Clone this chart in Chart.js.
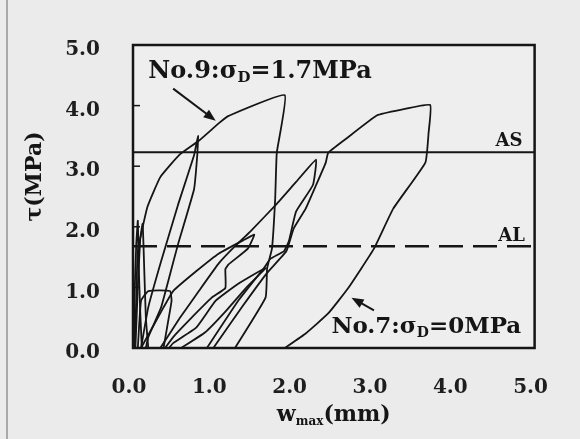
<!DOCTYPE html>
<html>
<head>
<meta charset="utf-8">
<script src="https://cdn.jsdelivr.net/npm/chart.js@4.4.1/dist/chart.umd.min.js"></script>
<style>
  body { margin: 0; background: #ebebeb; }
  #wrap { width: 580px; height: 439px; }
</style>
</head>
<body>
<div id="wrap"><canvas id="shearChart" width="580" height="439"></canvas></div>
<script>
// axis ticks (mm / MPa)
const xTicks = [0, 1, 2, 3, 4, 5];
const yTicks = [0, 1, 2, 3, 4, 5];

// allowable stress levels (MPa)
const levelAS = 3.23;
const levelAL = 1.68;

// No.9 : sigma_D = 1.7 MPa, points are [w_max, tau]
const no9Spike1 = [[0.01, 0], [0.02, 0.9], [0.04, 1.7], [0.06, 2.1], [0.07, 1.4], [0.09, 0.6], [0.11, 0]];
const no9Spike2 = [[0.03, 0], [0.06, 1.0], [0.09, 1.8], [0.12, 2.05], [0.14, 1.3], [0.16, 0.5], [0.19, 0]];
const no9Small = [[0.06, 0], [0.1, 0.78], [0.19, 0.94], [0.46, 0.94], [0.48, 0.78], [0.44, 0.46], [0.38, 0]];
const no9Mid = [[0.1, 0], [0.19, 0.67], [0.35, 1.43], [0.56, 2.36], [0.76, 3.18], [0.81, 3.5],
  [0.8, 3.18], [0.76, 2.62], [0.56, 1.71], [0.44, 1.11], [0.35, 0.67], [0.19, 0.18], [0.16, 0]];
const no9Big = [[0.02, 0], [0.04, 0.78], [0.06, 1.6], [0.18, 2.33], [0.34, 2.82], [0.58, 3.19],
  [0.82, 3.42], [1.07, 3.71], [1.19, 3.83], [1.89, 4.17],
  [1.79, 3.22], [1.77, 2.46], [1.73, 1.64], [1.67, 1.32], [1.65, 0.83], [1.27, 0]];

// No.7 : sigma_D = 0 MPa
const no7Thin = [[0.45, 0], [0.5, 0.08], [0.79, 0.34], [1.03, 0.78], [1.31, 1.06], [1.65, 1.32],
  [1.4, 0.98], [1.15, 0.6], [0.9, 0.26], [0.6, 0]];
const no7First = [[0.1, 0], [0.38, 0.67], [0.5, 0.94], [0.79, 1.27], [1.07, 1.56], [1.39, 1.79], [1.51, 1.87],
  [1.43, 1.64], [1.19, 1.38], [1.15, 1.3], [1.15, 0.99], [0.98, 0.83], [0.7, 0.46], [0.5, 0.18], [0.4, 0]];
const no7Second = [[0.34, 0], [0.58, 0.49], [0.82, 0.94], [1.07, 1.4], [1.27, 1.68], [1.46, 1.92],
  [1.79, 2.38], [2.03, 2.74], [2.28, 3.11],
  [2.24, 2.69], [2.03, 2.25], [1.94, 1.76], [1.88, 1.6], [1.71, 1.47], [1.63, 1.32], [1.31, 0.78], [0.92, 0]];
const no7Last = [[1.0, 0], [1.37, 0.7], [1.67, 1.24], [1.91, 1.6], [2.0, 1.97], [2.15, 2.3], [2.28, 2.69],
  [2.4, 3.06], [2.43, 3.22], [2.64, 3.44], [3.04, 3.84], [3.33, 3.93], [3.7, 4.01],
  [3.68, 3.55], [3.64, 3.06], [3.24, 2.3], [3.0, 1.64], [2.68, 0.99], [2.43, 0.57], [2.15, 0.24], [1.89, 0]];

const loops = [no9Spike1, no9Spike2, no9Small, no9Mid, no9Big, no7Thin, no7First, no7Second, no7Last];

const ink = '#151515';
const serif = '"DejaVu Serif", "Liberation Serif", serif';
const toPts = arr => arr.map(([x, y]) => ({x, y}));

const datasets = loops.map(l => ({
  data: toPts(l),
  showLine: true,
  borderColor: ink,
  borderWidth: 1.8,
  pointRadius: 0,
  tension: 0.12
}));
datasets.push({
  data: toPts([[0, levelAS], [5, levelAS]]),
  showLine: true, borderColor: ink, borderWidth: 2, pointRadius: 0
});
datasets.push({
  data: toPts([[0, levelAL], [5, levelAL]]),
  showLine: true, borderColor: ink, borderWidth: 2.5, pointRadius: 0, borderDash: [24, 10]
});

function drawParts(ctx, parts, x, y) {
  parts.forEach(([txt, size, dy]) => {
    ctx.font = `bold ${size}px ${serif}`;
    ctx.fillText(txt, x, y + dy);
    x += ctx.measureText(txt).width;
  });
  return x;
}

function partsWidth(ctx, parts) {
  let w = 0;
  parts.forEach(([txt, size]) => {
    ctx.font = `bold ${size}px ${serif}`;
    w += ctx.measureText(txt).width;
  });
  return w;
}

function arrow(ctx, x0, y0, x1, y1) {
  const ang = Math.atan2(y1 - y0, x1 - x0);
  const h = 13;
  ctx.beginPath();
  ctx.moveTo(x0, y0);
  ctx.lineTo(x1 - h * 0.7 * Math.cos(ang), y1 - h * 0.7 * Math.sin(ang));
  ctx.stroke();
  ctx.beginPath();
  ctx.moveTo(x1, y1);
  ctx.lineTo(x1 - h * Math.cos(ang - 0.38), y1 - h * Math.sin(ang - 0.38));
  ctx.lineTo(x1 - h * Math.cos(ang + 0.38), y1 - h * Math.sin(ang + 0.38));
  ctx.closePath();
  ctx.fill();
}

const overlay = {
  id: 'overlay',
  beforeDraw(chart) {
    const {ctx, chartArea: a} = chart;
    ctx.save();
    ctx.fillStyle = '#ebebeb';
    ctx.fillRect(0, 0, chart.width, chart.height);
    ctx.fillStyle = '#eeeeee';
    ctx.fillRect(a.left, a.top, a.width, a.height);
    ctx.strokeStyle = '#a9a9a9';
    ctx.lineWidth = 2;
    ctx.beginPath();
    ctx.moveTo(7, 0);
    ctx.lineTo(7, chart.height);
    ctx.stroke();
    ctx.restore();
  },
  afterDatasetsDraw(chart) {
    const {ctx, chartArea: a, scales: {x, y}} = chart;
    ctx.save();
    ctx.strokeStyle = ink;
    ctx.fillStyle = ink;

    // frame
    ctx.lineWidth = 2.5;
    ctx.strokeRect(a.left, a.top, a.width, a.height);

    // small inner ticks on the left side
    ctx.lineWidth = 1.5;
    yTicks.forEach(v => {
      const py = y.getPixelForValue(v);
      ctx.beginPath();
      ctx.moveTo(a.left, py);
      ctx.lineTo(a.left + 7, py);
      ctx.stroke();
    });

    // AS / AL labels
    ctx.textAlign = 'right';
    ctx.textBaseline = 'alphabetic';
    ctx.font = `bold 18px ${serif}`;
    ctx.fillText('AS', x.getPixelForValue(4.85), y.getPixelForValue(3.34));
    ctx.fillText('AL', x.getPixelForValue(4.88), y.getPixelForValue(1.76));

    // specimen notes
    ctx.textAlign = 'left';
    drawParts(ctx, [['No.9:σ', 24, 0], ['D', 15, 4], ['=1.7MPa', 24, 0]],
      x.getPixelForValue(0.19), y.getPixelForValue(4.45));
    drawParts(ctx, [['No.7:σ', 23, 0], ['D', 14, 4], ['=0MPa', 23, 0]],
      x.getPixelForValue(2.47), y.getPixelForValue(0.24));

    ctx.lineWidth = 2;
    arrow(ctx, x.getPixelForValue(0.5), y.getPixelForValue(4.28), x.getPixelForValue(1.03), y.getPixelForValue(3.75));
    arrow(ctx, x.getPixelForValue(3.0), y.getPixelForValue(0.62), x.getPixelForValue(2.72), y.getPixelForValue(0.83));

    // x title with subscript
    const xt = [['w', 22, 0], ['max', 12, 4], ['(mm)', 22, 0]];
    const cx = (a.left + a.right) / 2;
    drawParts(ctx, xt, cx - partsWidth(ctx, xt) / 2, 421);

    // y title
    ctx.translate(35, (a.top + a.bottom) / 2 - 20);
    ctx.rotate(-Math.PI / 2);
    ctx.textAlign = 'center';
    ctx.textBaseline = 'middle';
    ctx.font = `bold 22px ${serif}`;
    ctx.fillText('τ(MPa)', 0, 0);
    ctx.restore();
  }
};

new Chart(document.getElementById('shearChart'), {
  type: 'scatter',
  data: {datasets},
  plugins: [overlay],
  options: {
    responsive: false,
    animation: false,
    events: [],
    layout: {padding: {top: 41, right: 35, left: 0, bottom: 0}},
    plugins: {legend: {display: false}, tooltip: {enabled: false}},
    scales: {
      x: {
        type: 'linear', min: 0, max: 5,
        grid: {display: false, drawTicks: false},
        border: {display: false},
        afterBuildTicks: s => { s.ticks = xTicks.map(v => ({value: v})); },
        afterFit: s => { s.height = 91; },
        ticks: {
          padding: 28, labelOffset: -4, color: '#1e1e1e',
          font: {family: serif, size: 20, weight: 'bold'},
          callback: v => v.toFixed(1)
        }
      },
      y: {
        type: 'linear', min: 0, max: 5,
        grid: {display: false, drawTicks: false},
        border: {display: false},
        afterBuildTicks: s => { s.ticks = yTicks.map(v => ({value: v})); },
        afterFit: s => { s.width = 133; },
        ticks: {
          padding: 33, labelOffset: 5, color: '#1e1e1e',
          font: {family: serif, size: 20, weight: 'bold'},
          callback: v => v.toFixed(1)
        }
      }
    }
  }
});
</script>
</body>
</html>
